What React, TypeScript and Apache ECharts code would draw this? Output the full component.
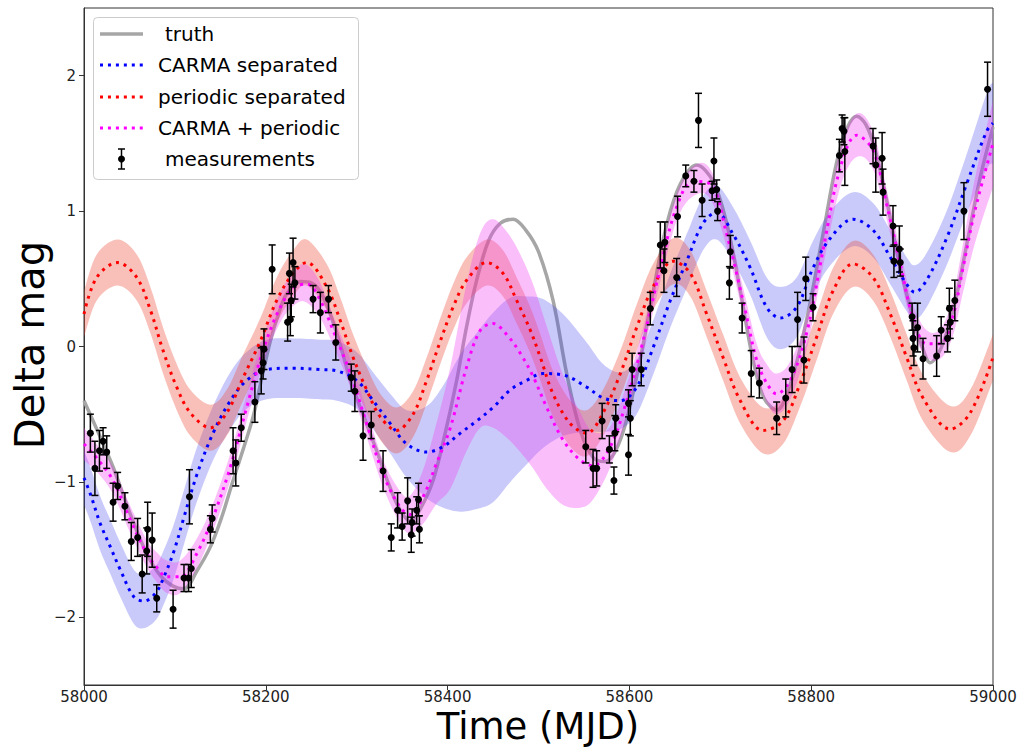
import React, { useEffect, useRef } from "react";
import * as echarts from "echarts";

// ---------- data ----------
const X_TICKS = [58000, 58200, 58400, 58600, 58800, 59000];
const Y_TICKS = [-2, -1, 0, 1, 2];

// truth: [MJD, mag]
const truthCurve: number[][] = [
  [58000, -0.40], [58016, -0.64], [58032, -0.89], [58051, -1.24], [58069, -1.53], [58085, -1.70],
  [58098, -1.77], [58110, -1.79], [58124, -1.66], [58139, -1.48], [58152, -1.25], [58164, -0.99],
  [58176, -0.74], [58186, -0.52], [58196, -0.22], [58205, 0.04], [58214, 0.24], [58223, 0.39],
  [58238, 0.48], [58250, 0.47], [58262, 0.38], [58278, 0.10], [58293, -0.25], [58308, -0.52],
  [58322, -0.77], [58336, -1.03], [58348, -1.21], [58359, -1.29], [58370, -1.20], [58384, -0.99],
  [58397, -0.65], [58410, -0.25], [58421, 0.15], [58432, 0.49], [58445, 0.78], [58458, 0.91],
  [58472, 0.94], [58486, 0.86], [58500, 0.70], [58516, 0.34], [58531, -0.20], [58546, -0.62],
  [58560, -0.82], [58573, -0.85], [58590, -0.69], [58608, -0.22], [58626, 0.40], [58641, 0.90],
  [58656, 1.20], [58674, 1.34], [58692, 1.22], [58707, 0.91], [58722, 0.41], [58736, -0.10],
  [58748, -0.38], [58762, -0.47], [58777, -0.28], [58795, 0.20], [58813, 0.83], [58828, 1.36],
  [58840, 1.62], [58850, 1.70], [58860, 1.64], [58870, 1.46], [58883, 1.08], [58898, 0.58],
  [58912, 0.21], [58922, 0.00], [58931, -0.12], [58940, -0.05], [58949, 0.10], [58960, 0.38],
  [58971, 0.75], [58986, 1.25], [59000, 1.62],
];

// CARMA separated: [MJD, mean, half-width of band]
const carmaCurve: number[][] = [
  [58000, -0.97, 0.2], [58007, -1.09, 0.2], [58018, -1.31, 0.2], [58029, -1.48, 0.2], [58040, -1.65, 0.2],
  [58055, -1.85, 0.2], [58066, -1.88, 0.2], [58079, -1.82, 0.2], [58088, -1.70, 0.2], [58099, -1.51, 0.2],
  [58110, -1.26, 0.2], [58124, -0.95, 0.2], [58142, -0.64, 0.2], [58161, -0.40, 0.21], [58179, -0.25, 0.21],
  [58201, -0.17, 0.22], [58230, -0.16, 0.22], [58260, -0.17, 0.22], [58278, -0.18, 0.22], [58300, -0.25, 0.21],
  [58318, -0.40, 0.21], [58337, -0.57, 0.22], [58355, -0.72, 0.25], [58377, -0.78, 0.34], [58395, -0.74, 0.45],
  [58414, -0.64, 0.58], [58432, -0.55, 0.65], [58450, -0.45, 0.7], [58469, -0.32, 0.68], [58487, -0.25, 0.62],
  [58505, -0.20, 0.55], [58527, -0.21, 0.45], [58553, -0.30, 0.33], [58571, -0.38, 0.25], [58590, -0.40, 0.21],
  [58608, -0.30, 0.2], [58626, -0.01, 0.2], [58645, 0.34, 0.2], [58663, 0.63, 0.2], [58681, 0.91, 0.2],
  [58696, 0.99, 0.2], [58714, 0.83, 0.2], [58733, 0.58, 0.2], [58751, 0.29, 0.22], [58766, 0.21, 0.23],
  [58784, 0.29, 0.22], [58802, 0.58, 0.2], [58821, 0.80, 0.2], [58846, 0.94, 0.2], [58868, 0.86, 0.2],
  [58887, 0.66, 0.2], [58905, 0.46, 0.2], [58914, 0.40, 0.2], [58927, 0.49, 0.2], [58949, 0.80, 0.2],
  [58971, 1.20, 0.22], [58993, 1.59, 0.28], [59000, 1.65, 0.3],
];

// periodic separated: [MJD, mean]
const periodicCurve: number[][] = [
  [58000, 0.24], [58014, 0.51], [58037, 0.62], [58058, 0.51], [58073, 0.27], [58087, -0.03],
  [58102, -0.30], [58117, -0.49], [58139, -0.60], [58157, -0.49], [58175, -0.23], [58194, 0.04],
  [58212, 0.34], [58230, 0.54], [58245, 0.62], [58267, 0.44], [58282, 0.19], [58296, -0.08],
  [58311, -0.32], [58326, -0.52], [58344, -0.62], [58362, -0.50], [58377, -0.25], [58392, 0.04],
  [58406, 0.29], [58421, 0.49], [58443, 0.62], [58461, 0.54], [58476, 0.34], [58491, 0.12],
  [58502, -0.08], [58516, -0.35], [58535, -0.57], [58553, -0.64], [58571, -0.49], [58590, -0.20],
  [58608, 0.14], [58626, 0.44], [58648, 0.63], [58667, 0.54], [58685, 0.24], [58703, -0.08],
  [58722, -0.40], [58747, -0.62], [58769, -0.55], [58788, -0.27], [58806, 0.07], [58824, 0.41],
  [58846, 0.61], [58868, 0.51], [58887, 0.24], [58905, -0.08], [58923, -0.38], [58953, -0.61],
  [58975, -0.49], [59000, -0.08],
];
const PERIODIC_HW = 0.17;

// CARMA + periodic: [MJD, mean, half-width]
const combinedCurve: number[][] = [
  [58000, -0.72, 0.12], [58016, -0.84, 0.1], [58032, -0.99, 0.1], [58051, -1.28, 0.1], [58069, -1.53, 0.1],
  [58080, -1.63, 0.11], [58091, -1.70, 0.12], [58106, -1.70, 0.12], [58124, -1.53, 0.11], [58142, -1.26, 0.1],
  [58161, -0.89, 0.1], [58179, -0.45, 0.1], [58197, -0.03, 0.1], [58216, 0.29, 0.11], [58234, 0.45, 0.13],
  [58246, 0.46, 0.14], [58260, 0.34, 0.13], [58274, 0.12, 0.11], [58293, -0.20, 0.1], [58311, -0.57, 0.1],
  [58329, -0.94, 0.1], [58348, -1.19, 0.12], [58359, -1.24, 0.14], [58373, -1.11, 0.2], [58388, -0.86, 0.3],
  [58403, -0.60, 0.45], [58421, -0.15, 0.62], [58436, 0.12, 0.72], [58450, 0.17, 0.77], [58466, 0.08, 0.76],
  [58480, -0.05, 0.73], [58494, -0.22, 0.68], [58509, -0.45, 0.6], [58527, -0.69, 0.48], [58546, -0.84, 0.35],
  [58560, -0.88, 0.25], [58579, -0.74, 0.15], [58597, -0.40, 0.12], [58615, 0.04, 0.1], [58634, 0.58, 0.1],
  [58652, 1.03, 0.1], [58670, 1.22, 0.11], [58689, 1.20, 0.11], [58707, 0.83, 0.1], [58727, 0.28, 0.1],
  [58740, -0.10, 0.12], [58751, -0.27, 0.14], [58762, -0.35, 0.15], [58777, -0.25, 0.14], [58795, 0.10, 0.12],
  [58813, 0.71, 0.12], [58832, 1.32, 0.14], [58850, 1.56, 0.16], [58868, 1.45, 0.14], [58883, 1.05, 0.11],
  [58898, 0.61, 0.1], [58912, 0.21, 0.1], [58927, 0.02, 0.1], [58942, 0.02, 0.11], [58955, 0.20, 0.14],
  [58967, 0.58, 0.18], [58980, 1.00, 0.24], [59000, 1.50, 0.32],
];

// measurements: [MJD, mag, error]
const measurements: number[][] = [
  [58007, -0.64, 0.14], [58012, -0.90, 0.2], [58017, -0.77, 0.15], [58021, -0.70, 0.1], [58025, -0.78, 0.12],
  [58032, -1.15, 0.14], [58037, -1.03, 0.1], [58045, -1.18, 0.1], [58052, -1.44, 0.14], [58059, -1.41, 0.14],
  [58064, -1.68, 0.14], [58069, -1.51, 0.17], [58070, -1.35, 0.2], [58075, -1.43, 0.2], [58080, -1.86, 0.1],
  [58098, -1.94, 0.14], [58110, -1.71, 0.1], [58115, -1.71, 0.1], [58118, -1.64, 0.14], [58116, -1.11, 0.2],
  [58139, -1.35, 0.1], [58141, -1.27, 0.1], [58164, -0.77, 0.17], [58167, -0.86, 0.17], [58173, -0.60, 0.1],
  [58188, -0.41, 0.15], [58195, -0.18, 0.17], [58197, -0.12, 0.12], [58198, -0.02, 0.15], [58207, 0.57, 0.18],
  [58224, 0.18, 0.14], [58227, 0.20, 0.12], [58226, 0.54, 0.15], [58228, 0.34, 0.12], [58230, 0.62, 0.18],
  [58232, 0.47, 0.12], [58252, 0.35, 0.1], [58260, 0.25, 0.15], [58269, 0.35, 0.1],
  [58277, 0.03, 0.13], [58294, -0.23, 0.1], [58298, -0.33, 0.15], [58307, -0.66, 0.18], [58316, -0.58, 0.1],
  [58329, -0.92, 0.15], [58338, -1.41, 0.1], [58345, -1.21, 0.13], [58350, -1.33, 0.1], [58356, -1.14, 0.17],
  [58360, -1.39, 0.13], [58361, -1.30, 0.1], [58366, -1.21, 0.1], [58368, -1.13, 0.12], [58369, -1.35, 0.1],
  [58552, -0.74, 0.12], [58560, -0.90, 0.14], [58564, -0.90, 0.13], [58570, -0.55, 0.13], [58578, -0.76, 0.1],
  [58583, -0.99, 0.1], [58584, -0.64, 0.13], [58585, -0.53, 0.1], [58599, -0.80, 0.15], [58599, -0.42, 0.1],
  [58601, -0.53, 0.13], [58603, -0.17, 0.12], [58613, -0.17, 0.12], [58623, 0.28, 0.12], [58634, 0.75, 0.17],
  [58638, 0.56, 0.16], [58639, 0.77, 0.15], [58652, 0.51, 0.14], [58653, 0.96, 0.15], [58662, 1.26, 0.08],
  [58671, 1.22, 0.08], [58676, 1.67, 0.2], [58680, 1.08, 0.12], [58693, 1.37, 0.17], [58691, 1.15, 0.07],
  [58696, 1.16, 0.07], [58697, 1.00, 0.07],
  [58711, 0.70, 0.12], [58710, 0.47, 0.12], [58724, 0.21, 0.11], [58734, -0.20, 0.17], [58743, -0.27, 0.11],
  [58762, -0.53, 0.12], [58772, -0.38, 0.14], [58779, -0.17, 0.17], [58785, 0.20, 0.2], [58792, -0.10, 0.17],
  [58794, 0.50, 0.16], [58802, 0.29, 0.1],
  [58831, 1.41, 0.12], [58834, 1.61, 0.1], [58836, 1.59, 0.1], [58837, 1.44, 0.25], [58868, 1.48, 0.13],
  [58871, 1.34, 0.2], [58878, 1.39, 0.19], [58879, 1.14, 0.17], [58890, 0.89, 0.15], [58891, 0.63, 0.12],
  [58897, 0.72, 0.17], [58898, 0.62, 0.1], [58911, 0.22, 0.1], [58912, 0.06, 0.13], [58913, -0.01, 0.13],
  [58917, 0.14, 0.18], [58923, -0.09, 0.15], [58938, -0.07, 0.15], [58943, 0.12, 0.1], [58950, 0.06, 0.1],
  [58952, 0.28, 0.15], [58953, 0.18, 0.12], [58958, 0.34, 0.15], [58968, 1.00, 0.21], [58994, 1.90, 0.2],
];

const LEGEND_ITEMS = ["truth", "CARMA separated", "periodic separated", "CARMA + periodic", "measurements"];

// ---------- styling ----------
const FONT = '"DejaVu Sans", "Liberation Sans", sans-serif';
const BLUE = "#0000ff";
const RED = "#ff0000";
const MAGENTA = "#ff00ff";
const GRAY = "#a6a6a6";
const DOT: number[] = [3, 4.95];
const SMOOTH = 0.35;

// Catmull-Rom densification of pixel points (rendering only)
function spline(pts: number[][], seg = 8): number[][] {
  const out: number[][] = [];
  const n = pts.length;
  for (let i = 0; i < n - 1; i++) {
    const p0 = pts[i - 1] || pts[i];
    const p1 = pts[i];
    const p2 = pts[i + 1];
    const p3 = pts[i + 2] || pts[i + 1];
    for (let s = 0; s < seg; s++) {
      const t = s / seg;
      const t2 = t * t;
      const t3 = t2 * t;
      const f = (k: number) =>
        0.5 *
        (2 * p1[k] +
          (-p0[k] + p2[k]) * t +
          (2 * p0[k] - 5 * p1[k] + 4 * p2[k] - p3[k]) * t2 +
          (-p0[k] + 3 * p1[k] - 3 * p2[k] + p3[k]) * t3);
      out.push([f(0), f(1)]);
    }
  }
  out.push(pts[n - 1]);
  return out;
}

function bandSeries(id: string, curve: number[][], hw: (row: number[]) => number, color: string) {
  return {
    type: "custom",
    id,
    data: [[curve[0][0], curve[0][1]]],
    encode: { x: 0, y: 1 },
    clip: true,
    silent: true,
    z: 3,
    renderItem: (_p: any, api: any) => {
      const upper = curve.map((r) => api.coord([r[0], r[1] + hw(r)]));
      const lower = curve.map((r) => api.coord([r[0], r[1] - hw(r)]));
      const pts = spline(upper).concat(spline(lower).reverse());
      return {
        type: "polygon",
        shape: { points: pts },
        style: { fill: color, stroke: "none" },
      };
    },
  };
}

function meanSeries(id: string, curve: number[][], color: string) {
  return {
    type: "line",
    id,
    data: curve.map((r) => [r[0], r[1]]),
    smooth: SMOOTH,
    symbol: "none",
    silent: true,
    lineStyle: { color, width: 3, type: DOT, cap: "butt" },
    z: 4,
  };
}

export default function App() {
  const ref = useRef<HTMLDivElement>(null);

  useEffect(() => {
    if (!ref.current) return;
    const chart = echarts.init(ref.current, undefined, { renderer: "svg" });

    const legendX = 100;
    const legendRows = [34, 65, 97, 128, 159];
    const legendColors = [GRAY, BLUE, RED, MAGENTA];
    const legendGraphics: any[] = [
      {
        type: "rect",
        shape: { x: 93.5, y: 17.5, width: 265, height: 162, r: 4 },
        style: { fill: "rgba(255,255,255,0.8)", stroke: "#cccccc", lineWidth: 1 },
        z: 100,
      },
    ];
    legendColors.forEach((c, i) => {
      legendGraphics.push({
        type: "line",
        shape: { x1: legendX, y1: legendRows[i], x2: legendX + 43, y2: legendRows[i] },
        style: i === 0 ? { stroke: c, lineWidth: 3.5 } : { stroke: c, lineWidth: 3, lineDash: DOT, lineCap: "butt" },
        z: 101,
      });
    });
    const ex = 121.5;
    const ey = legendRows[4];
    legendGraphics.push(
      { type: "line", shape: { x1: ex, y1: ey - 10, x2: ex, y2: ey + 10 }, style: { stroke: "#000", lineWidth: 1.5 }, z: 101 },
      { type: "line", shape: { x1: ex - 3.5, y1: ey - 10, x2: ex + 3.5, y2: ey - 10 }, style: { stroke: "#000", lineWidth: 1.5 }, z: 101 },
      { type: "line", shape: { x1: ex - 3.5, y1: ey + 10, x2: ex + 3.5, y2: ey + 10 }, style: { stroke: "#000", lineWidth: 1.5 }, z: 101 },
      { type: "circle", shape: { cx: ex, cy: ey, r: 3.5 }, style: { fill: "#000" }, z: 101 }
    );
    LEGEND_ITEMS.forEach((label, i) => {
      const indent = i === 0 || i === 4 ? 165 : 158;
      legendGraphics.push({
        type: "text",
        x: indent,
        y: legendRows[i],
        style: { text: label, font: `20px ${FONT}`, fill: "#000", align: "left", verticalAlign: "middle" },
        z: 101,
      });
    });

    const option: any = {
      animation: false,
      backgroundColor: "#ffffff",
      grid: {
        left: 84,
        right: 24,
        top: 8,
        bottom: 63,
        show: true,
        borderColor: "#333333",
        borderWidth: 1,
        backgroundColor: "transparent",
        containLabel: false,
        outerBoundsMode: "none",
      },
      xAxis: {
        type: "value",
        min: 58000,
        max: 59000,
        interval: 200,
        axisLine: { show: true, onZero: false, lineStyle: { color: "#333333", width: 1 } },
        axisTick: { show: true, inside: false, length: 5, lineStyle: { color: "#333333" }, customValues: X_TICKS },
        axisLabel: {
          fontSize: 15,
          lineHeight: 15,
          fontFamily: FONT,
          color: "#222222",
          margin: 4,
          showMinLabel: true,
          showMaxLabel: true,
          customValues: X_TICKS,
          formatter: (v: number) => String(v),
        },
        splitLine: { show: false },
      },
      yAxis: {
        type: "value",
        min: -2.5,
        max: 2.5,
        axisLine: { show: true, onZero: false, lineStyle: { color: "#333333", width: 1 } },
        axisTick: { show: true, inside: false, length: 5, lineStyle: { color: "#333333" }, customValues: Y_TICKS },
        axisLabel: {
          fontSize: 15,
          fontFamily: FONT,
          color: "#222222",
          margin: 8,
          customValues: Y_TICKS,
          formatter: (v: number) => (v < 0 ? "\u2212" + Math.abs(v) : String(v)),
        },
        splitLine: { show: false },
      },
      graphic: [
        {
          type: "text",
          x: 538,
          y: 726,
          style: {
            text: "Time (MJD)",
            font: `37px ${FONT}`,
            lineHeight: 37,
            fill: "#000",
            align: "center",
            verticalAlign: "middle",
          },
        },
        {
          type: "text",
          x: 30,
          y: 345,
          rotation: Math.PI / 2,
          style: {
            text: "Delta mag",
            font: `40px ${FONT}`,
            lineHeight: 40,
            fill: "#000",
            align: "center",
            verticalAlign: "middle",
          },
        },
        ...legendGraphics,
      ],
      series: [
        {
          type: "line",
          id: "truth",
          name: "truth",
          data: truthCurve,
          smooth: SMOOTH,
          symbol: "none",
          silent: true,
          lineStyle: { color: GRAY, width: 3.5 },
          z: 2,
        },
        bandSeries("carmaBand", carmaCurve, (r) => r[2], "rgba(60,60,235,0.27)"),
        bandSeries("periodicBand", periodicCurve, () => PERIODIC_HW, "rgba(235,75,55,0.35)"),
        bandSeries("combinedBand", combinedCurve, (r) => r[2], "rgba(240,60,240,0.33)"),
        meanSeries("carma", carmaCurve, BLUE),
        meanSeries("periodic", periodicCurve, RED),
        meanSeries("combined", combinedCurve, MAGENTA),
        {
          type: "custom",
          id: "measurements",
          name: "measurements",
          data: measurements,
          dimensions: ["t", "y", "err"],
          encode: { x: 0, y: 1 },
          clip: true,
          z: 10,
          renderItem: (_params: any, api: any) => {
            const t = api.value(0);
            const y = api.value(1);
            const e = api.value(2);
            const c = api.coord([t, y]);
            const hi = api.coord([t, y + e]);
            const lo = api.coord([t, y - e]);
            const cap = 3.5;
            const st = { stroke: "#000", lineWidth: 1.5 };
            return {
              type: "group",
              children: [
                { type: "line", shape: { x1: c[0], y1: hi[1], x2: c[0], y2: lo[1] }, style: st },
                { type: "line", shape: { x1: c[0] - cap, y1: hi[1], x2: c[0] + cap, y2: hi[1] }, style: st },
                { type: "line", shape: { x1: c[0] - cap, y1: lo[1], x2: c[0] + cap, y2: lo[1] }, style: st },
                { type: "circle", shape: { cx: c[0], cy: c[1], r: 3.5 }, style: { fill: "#000" } },
              ],
            };
          },
        },
      ],
    };

    chart.setOption(option);
    return () => chart.dispose();
  }, []);

  return (
    <div ref={ref} style={{ position: "fixed", left: 0, top: 0, width: 1017, height: 748, background: "#fff" }} />
  );
}
